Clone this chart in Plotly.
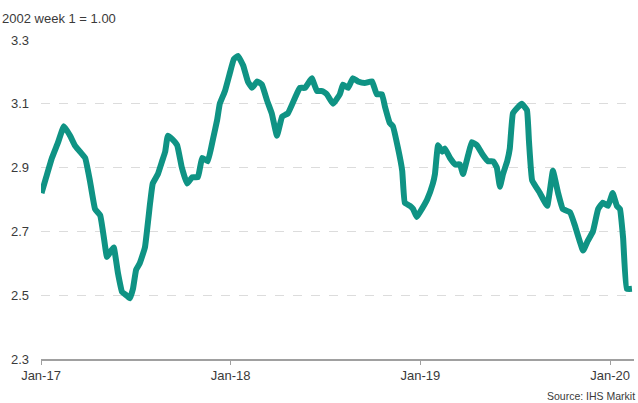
import plotly.graph_objects as go

# Weekly index, 2002 week 1 = 1.00
dates = [
    "2017-01-02", "2017-01-11", "2017-01-22", "2017-02-03", "2017-02-14", "2017-02-26",
    "2017-03-07", "2017-03-17", "2017-03-27", "2017-04-05", "2017-04-15", "2017-04-25",
    "2017-05-02", "2017-05-08", "2017-05-16", "2017-05-21", "2017-05-29", "2017-06-06",
    "2017-06-14", "2017-06-21", "2017-06-27", "2017-07-03", "2017-07-10", "2017-07-20",
    "2017-07-30", "2017-08-04", "2017-08-14", "2017-08-22", "2017-08-28", "2017-09-02",
    "2017-09-10", "2017-09-20", "2017-09-29", "2017-10-09", "2017-10-19", "2017-10-30",
    "2017-11-07", "2017-11-18", "2017-11-28", "2017-12-06", "2017-12-11", "2017-12-21",
    "2017-12-31", "2018-01-07", "2018-01-15", "2018-01-25", "2018-02-03", "2018-02-11",
    "2018-02-21", "2018-03-02", "2018-03-12", "2018-03-21", "2018-03-31", "2018-04-10",
    "2018-04-21", "2018-05-05", "2018-05-14", "2018-05-24", "2018-06-06", "2018-06-16",
    "2018-06-26", "2018-07-05", "2018-07-17", "2018-07-30", "2018-08-05", "2018-08-15",
    "2018-08-24", "2018-09-03", "2018-09-16", "2018-09-30", "2018-10-09", "2018-10-19",
    "2018-10-25", "2018-11-03", "2018-11-09", "2018-11-19", "2018-11-27", "2018-12-02",
    "2018-12-12", "2018-12-18", "2018-12-25", "2018-12-31", "2019-01-14", "2019-01-25",
    "2019-01-29", "2019-02-04", "2019-02-12", "2019-02-17", "2019-02-27", "2019-03-09",
    "2019-03-18", "2019-03-24", "2019-04-03", "2019-04-10", "2019-04-20", "2019-05-01",
    "2019-05-11", "2019-05-21", "2019-05-28", "2019-06-03", "2019-06-09", "2019-06-17",
    "2019-06-22", "2019-06-28", "2019-07-08", "2019-07-15", "2019-07-25", "2019-07-29",
    "2019-08-04", "2019-08-19", "2019-09-02", "2019-09-13", "2019-09-23", "2019-10-02",
    "2019-10-16", "2019-10-25", "2019-11-10", "2019-11-19", "2019-11-29", "2019-12-09",
    "2019-12-18", "2019-12-28", "2020-01-06", "2020-01-14", "2020-01-20", "2020-01-26",
    "2020-02-02", "2020-02-12",
]
index_values = [
    2.82, 2.87, 2.93, 2.98, 3.03, 3.00,
    2.97, 2.95, 2.93, 2.86, 2.77, 2.75,
    2.68, 2.62, 2.64, 2.65, 2.57, 2.51,
    2.50, 2.49, 2.52, 2.58, 2.60, 2.65,
    2.79, 2.85, 2.88, 2.92, 2.95, 3.00,
    2.99, 2.97, 2.90, 2.85, 2.87, 2.87,
    2.93, 2.92, 2.99, 3.05, 3.10, 3.14,
    3.20, 3.24, 3.25, 3.22, 3.17, 3.15,
    3.17, 3.16, 3.11, 3.07, 3.00, 3.06,
    3.07, 3.12, 3.15, 3.15, 3.18, 3.14,
    3.14, 3.13, 3.10, 3.13, 3.16, 3.15,
    3.18, 3.17, 3.165, 3.17, 3.13, 3.13,
    3.09, 3.04, 3.03, 2.96, 2.89, 2.79,
    2.78, 2.77, 2.745, 2.76, 2.80, 2.85,
    2.88, 2.97, 2.95, 2.96, 2.93, 2.91,
    2.91, 2.88, 2.94, 2.98, 2.97, 2.94,
    2.92, 2.92, 2.90, 2.84, 2.88, 2.92,
    2.96, 3.07, 3.09, 3.10, 3.08, 2.98,
    2.86, 2.82, 2.78, 2.89, 2.82, 2.77,
    2.76, 2.72, 2.64, 2.67, 2.70, 2.77,
    2.79, 2.78, 2.82, 2.78, 2.77, 2.68,
    2.52, 2.52,
]

x_tick_dates = ["2017-01-01", "2018-01-01", "2019-01-01", "2020-01-01"]
x_tick_labels = ["Jan-17", "Jan-18", "Jan-19", "Jan-20"]
y_ticks = [2.3, 2.5, 2.7, 2.9, 3.1, 3.3]

text_color = "#3a3a3a"
font_family = "Liberation Sans, Arial, sans-serif"

fig = go.Figure()
fig.add_trace(go.Scatter(
    x=dates, y=index_values, mode="lines",
    line=dict(color="#0f9384", width=6, shape="spline", smoothing=0.3),
    hoverinfo="x+y", showlegend=False,
))

fig.update_layout(
    width=638, height=403,
    margin=dict(l=41, r=4, t=40, b=44),
    paper_bgcolor="white", plot_bgcolor="white",
    font=dict(family=font_family, size=13, color=text_color),
    xaxis=dict(
        range=["2017-01-01", "2020-02-16"],
        tickvals=x_tick_dates, ticktext=x_tick_labels,
        showgrid=False, zeroline=False,
        showline=True, linecolor="#a0a0a0", linewidth=1.5,
        ticks="outside", ticklen=4, tickwidth=1, tickcolor="#a0a0a0",
        tickfont=dict(size=13, color=text_color),
    ),
    yaxis=dict(
        range=[2.3, 3.3], tickvals=y_ticks, tickformat=".1f",
        showgrid=True, gridcolor="#dcdcdc", griddash="dash", gridwidth=1,
        zeroline=False, showline=False, ticks="",
        ticklabelstandoff=11,
        tickfont=dict(size=13, color=text_color),
    ),
    annotations=[
        dict(text="2002 week 1 = 1.00", xref="paper", yref="paper",
             x=-41 / 593, y=1, xanchor="left", yanchor="bottom", yshift=12,
             showarrow=False, font=dict(size=13, color=text_color)),
        dict(text="Source: IHS Markit", xref="paper", yref="paper",
             x=1, y=0, xanchor="right", yanchor="top", xshift=3, yshift=-29,
             showarrow=False, font=dict(size=10.5, color=text_color)),
    ],
)

fig.write_html("out.html")
